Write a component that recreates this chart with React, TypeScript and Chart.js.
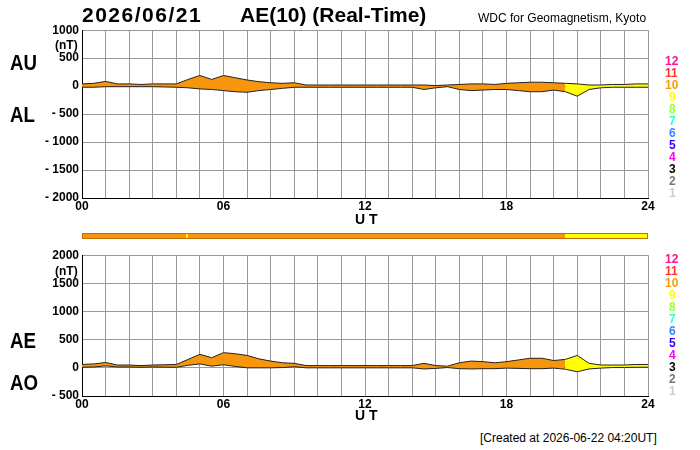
import React, { useEffect, useRef } from "react";
import { Chart, registerables } from "chart.js";
Chart.register(...registerables);

const HOURS = [0,0.5,1,1.5,2,2.5,3,3.5,4,4.5,5,5.5,6,6.5,7,7.5,8,8.5,9,9.5,10,10.5,11,11.5,12,12.5,13,13.5,14,14.5,15,15.5,16,16.5,17,17.5,18,18.5,19,19.5,20,20.5,21,21.5,22,22.5,23,23.5,24];
const AU = [40,50,85,40,40,30,40,40,40,120,190,120,190,150,110,80,60,50,60,20,20,20,20,20,20,20,20,20,20,20,10,20,30,40,40,30,50,60,70,70,60,50,40,20,20,30,30,40,40];
const AL = [-20,-20,-10,-10,-10,-10,-10,-15,-20,-30,-50,-60,-80,-100,-110,-80,-60,-40,-20,-20,-20,-20,-20,-20,-20,-20,-20,-20,-20,-60,-30,-10,-60,-80,-70,-60,-60,-80,-100,-100,-70,-100,-180,-60,-30,-20,-20,-20,-20];
const AE = [60,70,95,50,50,40,50,55,60,150,240,180,270,250,220,160,120,90,80,40,40,40,40,40,40,40,40,40,40,80,40,30,90,120,110,90,110,140,170,170,130,150,220,80,50,50,50,60,60];
const AO = [10,15,35,15,15,10,15,12,10,45,70,30,55,25,0,0,0,5,20,0,0,0,0,0,0,0,0,0,0,-20,-10,5,-15,-20,-15,-15,-5,-10,-15,-15,-5,-25,-70,-20,-5,5,5,10,10];
const COLOR_SWITCH = 20.5; // station count 10 -> 9
const LEVEL_NUMS = [12,11,10,9,8,7,6,5,4,3,2,1];
const LEVEL_COLORS = ["#ff1493","#ff3333","#ff9900","#ffff00","#99ff33","#33ffcc","#3388ff","#3300ff","#ff00ff","#000000","#777777","#cccccc"];
const BAR_BREAKS = [{from:0,to:4.4,c:"#f7960c"},{from:4.4,to:4.45,c:"#ffff00"},{from:4.45,to:20.5,c:"#f7960c"},{from:20.5,to:24,c:"#ffff00"}];

const FONT = "'Liberation Sans', Arial, sans-serif";
const ORANGE = "#f7960c", YELLOW = "#ffff00";

function pts(ys: number[], lo: number, hi: number) {
  return HOURS.map((h, i) => ({ x: h, y: ys[i] })).filter(p => p.x >= lo && p.x <= hi);
}

function makeChart(canvas: HTMLCanvasElement, upper: number[], lower: number[], min: number, max: number, padTop: number, xH: number) {
  const pair = (lo: number, hi: number, col: string) => [
    { data: pts(lower, lo, hi), borderColor: "#222", borderWidth: 1, pointRadius: 0, fill: false, tension: 0 },
    { data: pts(upper, lo, hi), borderColor: "#222", borderWidth: 1, pointRadius: 0, fill: "-1", backgroundColor: col, tension: 0 },
  ];
  return new Chart(canvas, {
    type: "line",
    data: { datasets: [...pair(0, COLOR_SWITCH, ORANGE), ...pair(COLOR_SWITCH, 24, YELLOW)] as any },
    options: {
      animation: false, responsive: false, maintainAspectRatio: false,
      layout: { padding: { top: padTop, right: 52, left: 0, bottom: 0 } },
      plugins: { legend: { display: false }, tooltip: { enabled: false } },
      scales: {
        x: {
          type: "linear", min: 0, max: 24,
          afterFit: (s: any) => { s.height = xH; },
          grid: { color: "#999", lineWidth: 1, drawTicks: false },
          border: { color: "#000" },
          ticks: { stepSize: 1, autoSkip: false, maxRotation: 0, padding: 1, color: "#000", font: { family: FONT, size: 12, weight: "bold" },
            callback: (v: any) => (v % 6 === 0 ? String(v).padStart(2, "0") : "") },
        },
        y: {
          min, max,
          afterFit: (s: any) => { s.width = 82; },
          grid: { color: "#999", lineWidth: 1, drawTicks: false },
          border: { color: "#000" },
          ticks: { stepSize: 500, padding: 3, color: "#000", font: { family: FONT, size: 12, weight: "bold" },
            callback: (v: any) => (v < 0 ? "- " + Math.abs(v) : String(v)) },
        },
      },
    } as any,
  });
}

const abs = (x: number, y: number, extra: any = {}) => ({ position: "absolute" as const, left: x, top: y, whiteSpace: "nowrap" as const, fontFamily: FONT, lineHeight: 1, ...extra });

export default function App() {
  const r1 = useRef<HTMLCanvasElement>(null);
  const r2 = useRef<HTMLCanvasElement>(null);
  useEffect(() => {
    const c1 = makeChart(r1.current!, AU, AL, -2000, 1000, 7, 22);
    const c2 = makeChart(r2.current!, AE, AO, -500, 2000, 8, 24);
    return () => { c1.destroy(); c2.destroy(); };
  }, []);
  const barGrad = "linear-gradient(to right," + BAR_BREAKS.map(b => `${b.c} ${(b.from / 24) * 100}%, ${b.c} ${(b.to / 24) * 100}%`).join(",") + ")";
  const big = { fontSize: 22, fontWeight: "bold", transform: "scaleX(0.85)", transformOrigin: "left" };
  return (
    <div style={{ position: "absolute", left: 0, top: 0, width: 700, height: 450, background: "#fff" }}>
      <canvas ref={r1} width={700} height={200} style={{ position: "absolute", left: 0, top: 20 }} />
      <canvas ref={r2} width={700} height={175} style={{ position: "absolute", left: 0, top: 245 }} />
      <div style={abs(82, 4, { fontSize: 21, fontWeight: "bold", letterSpacing: 1.5 })}>2026/06/21</div>
      <div style={abs(240, 4, { fontSize: 21, fontWeight: "bold" })}>AE(10) (Real-Time)</div>
      <div style={abs(478, 12, { fontSize: 12 })}>WDC for Geomagnetism, Kyoto</div>
      <div style={abs(55, 39, { fontSize: 12, fontWeight: "bold" })}>(nT)</div>
      <div style={abs(55, 265, { fontSize: 12, fontWeight: "bold" })}>(nT)</div>
      <div style={abs(10, 52, big)}>AU</div>
      <div style={abs(10, 104, big)}>AL</div>
      <div style={abs(10, 330, big)}>AE</div>
      <div style={abs(10, 372, big)}>AO</div>
      <div style={abs(355, 212, { fontSize: 14, fontWeight: "bold" })}>U T</div>
      <div style={abs(355, 408, { fontSize: 14, fontWeight: "bold" })}>U T</div>
      <div style={{ position: "absolute", left: 82, top: 233, width: 566, height: 6, background: barGrad, border: "1px solid #c07000", boxSizing: "border-box" }} />
      {LEVEL_NUMS.map((n, i) => (
        <React.Fragment key={n}>
          <div style={abs(672 - (n >= 10 ? 7 : 3), 55 + i * 12, { fontSize: 12, fontWeight: "bold", color: LEVEL_COLORS[i] })}>{n}</div>
          <div style={abs(672 - (n >= 10 ? 7 : 3), 253 + i * 12, { fontSize: 12, fontWeight: "bold", color: LEVEL_COLORS[i] })}>{n}</div>
        </React.Fragment>
      ))}
      <div style={abs(480, 432, { fontSize: 12 })}>[Created at 2026-06-22 04:20UT]</div>
    </div>
  );
}
